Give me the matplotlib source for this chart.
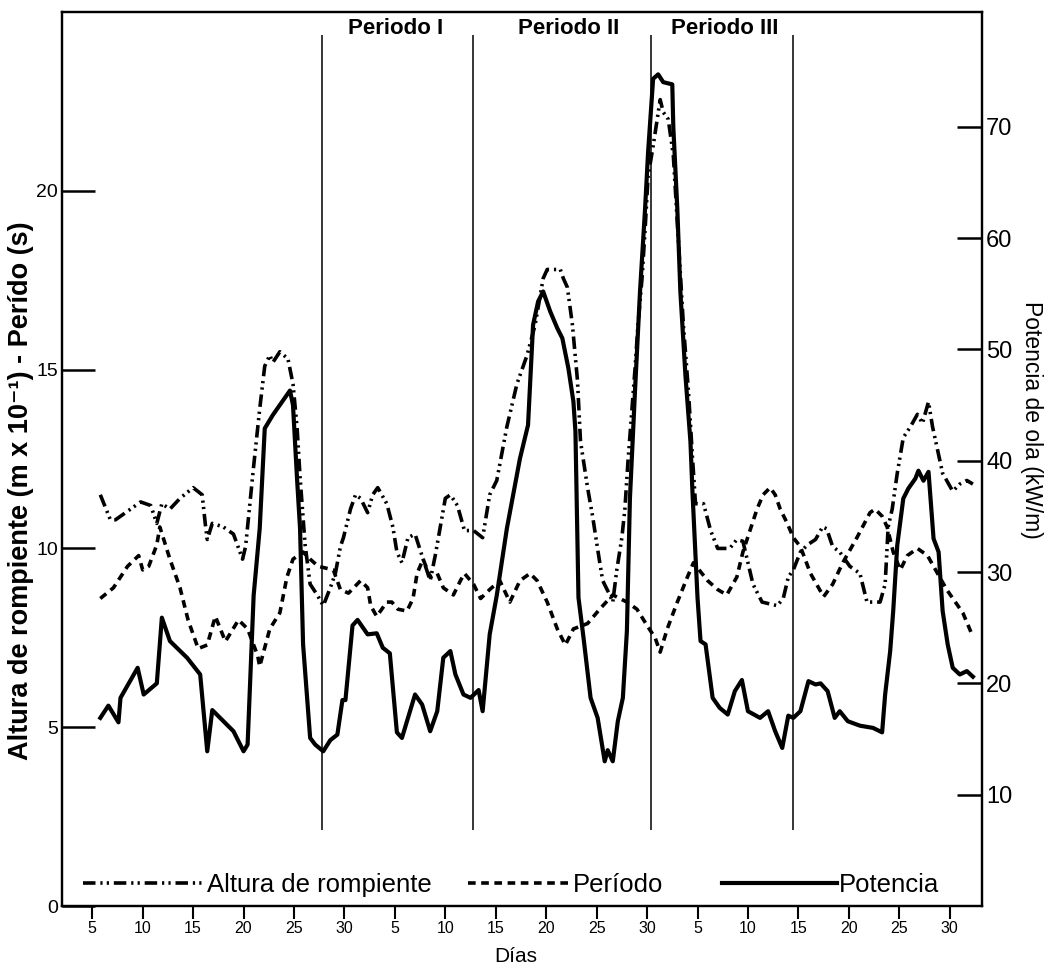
import numpy as np
import matplotlib
matplotlib.use("Agg")
import matplotlib.pyplot as plt

plt.rcParams['font.family'] = ['Liberation Sans', 'DejaVu Sans']
plt.rcParams['lines.scale_dashes'] = False

# Datos (dia continuo: mes 1 = 0-30, mes 2 = 30-60, mes 3 = 60-90)
dias_altura = [5.8, 6.8, 7.3, 9.8, 10.8, 11.4, 11.9, 12.7, 13.7, 15.0, 15.9, 16.2, 16.4, 16.9,
               18.0, 19.0, 19.9, 20.2, 21.0, 21.6, 22.1, 22.6, 22.9, 23.6, 24.4, 24.9, 25.3,
               25.6, 26.1, 26.6, 27.3, 27.9, 28.6, 29.1, 29.6, 29.9, 30.6, 31.1, 31.6, 32.3,
               32.8, 33.3, 34.2, 34.8, 35.2, 35.7, 36.3, 37.0, 37.8, 38.5, 39.0, 39.5, 40.0,
               40.5, 41.2, 41.9, 42.8, 43.7, 44.4, 45.1, 46.1, 47.1, 48.1, 48.9, 49.7, 50.1,
               51.4, 51.7, 52.1, 52.6, 53.1, 53.4, 54.1, 54.6, 55.2, 55.6, 56.3, 56.6, 57.0,
               57.5, 57.8, 58.1, 58.5, 58.8, 59.1, 59.5, 59.8, 60.1, 60.6, 61.3, 61.6, 62.1,
               62.6, 63.1, 63.6, 64.1, 64.5, 64.8, 65.6, 66.3, 67.0, 68.2, 68.9, 69.5, 70.5,
               71.4, 72.9, 73.5, 74.0, 74.5, 75.2, 75.9, 76.7, 77.4, 77.8, 78.4, 79.1, 80.1,
               81.1, 81.8, 83.1, 83.6, 83.9, 84.3, 84.8, 85.4, 86.1, 86.8, 87.3, 87.9, 88.3,
               88.8, 89.3, 90.3, 91.0, 91.7, 92.3]
altura = [11.5, 10.8, 10.8, 11.3, 11.2, 10.7, 11.25, 11.1, 11.4, 11.7, 11.5, 10.7, 10.25, 10.7,
          10.6, 10.4, 9.7, 10.05, 12.3, 13.9, 15.1, 15.4, 15.2, 15.5, 15.3, 14.6, 13.4,
          12.0, 10.1, 9.0, 8.7, 8.4, 8.9, 9.3, 10.05, 10.3, 11.1, 11.5, 11.4, 11.0,
          11.5, 11.7, 11.25, 10.6, 9.9, 9.6, 10.3, 10.4, 9.7, 9.1, 9.8, 10.6, 11.4,
          11.5, 11.2, 10.5, 10.5, 10.3, 11.5, 11.9, 13.4, 14.6, 15.4, 16.25, 17.55, 17.8,
          17.8, 17.55, 17.3, 16.25, 14.7, 13.0, 11.7, 10.9, 9.8, 9.1, 8.7, 8.5, 9.4,
          10.3, 11.1, 12.4, 13.9, 15.0, 16.25, 17.55, 18.9, 20.4, 21.25, 22.55, 22.2, 22.0,
          21.0, 18.6, 16.25, 14.4, 12.55, 11.25, 11.25, 10.5, 10.0, 10.0, 10.25, 10.2, 9.0,
          8.5, 8.4, 8.6, 9.2, 9.4, 9.9, 10.1, 10.25, 10.6, 10.55, 10.05, 9.9, 9.5,
          9.3, 8.5, 8.5, 9.0, 10.6, 11.1, 12.1, 13.1, 13.4, 13.75, 13.5, 14.1, 13.4,
          12.75, 12.1, 11.6, 11.8, 11.9, 11.8]

dias_periodo = [5.8, 7.1, 8.5, 9.6, 10.0, 10.6, 11.4, 11.7, 12.7, 13.7, 14.5, 15.5, 16.4, 17.2,
                18.2, 19.5, 20.4, 21.4, 21.6, 22.6, 23.6, 24.3, 24.9, 25.9, 26.6, 27.4, 28.9,
                29.6, 30.4, 31.6, 32.3, 32.6, 33.2, 34.2, 34.7, 35.3, 36.2, 36.8, 37.2, 37.8,
                38.5, 39.2, 39.8, 40.8, 41.5, 41.9, 42.8, 43.5, 44.4, 45.4, 46.4, 47.4, 48.4,
                49.1, 50.1, 51.1, 51.9, 52.7, 54.1, 55.3, 56.6, 58.0, 59.0, 60.1, 60.8, 61.3,
                62.0, 63.0, 64.0, 64.6, 66.0, 67.0, 67.9, 68.9, 69.5, 70.9, 71.5, 72.2, 72.7,
                73.2, 73.9, 74.5, 75.2, 76.2, 77.5, 78.4, 79.4, 80.8, 82.1, 82.6, 83.3, 83.8,
                84.4, 85.1, 85.8, 86.8, 87.8, 88.8, 89.7, 91.3, 92.2]
periodo = [8.6, 8.9, 9.5, 9.8, 9.4, 9.5, 10.1, 10.6, 9.7, 8.9, 8.0, 7.2, 7.3, 8.1,
           7.4, 8.0, 7.75, 7.0, 6.7, 7.75, 8.2, 9.2, 9.7, 9.9, 9.7, 9.5, 9.4,
           8.85, 8.75, 9.1, 8.9, 8.4, 8.1, 8.5, 8.5, 8.3, 8.25, 8.6, 9.3, 9.7,
           9.2, 9.3, 8.9, 8.7, 9.1, 9.3, 9.0, 8.6, 8.85, 9.1, 8.5, 9.1, 9.3,
           9.1, 8.5, 7.75, 7.3, 7.75, 7.9, 8.3, 8.7, 8.5, 8.3, 7.8, 7.5, 7.1,
           7.75, 8.5, 9.2, 9.6, 9.1, 8.85, 8.7, 9.2, 9.9, 11.1, 11.5, 11.7, 11.5,
           11.1, 10.7, 10.3, 10.05, 9.3, 8.65, 9.0, 9.6, 10.3, 11.0, 11.1, 10.9, 10.6,
           9.9, 9.4, 9.8, 10.0, 9.8, 9.3, 8.85, 8.2, 7.6]

dias_potencia = [5.8, 6.6, 7.6, 7.8, 9.5, 10.1, 11.4, 11.9, 12.7, 14.4, 15.7, 16.4, 16.9, 18.0,
                 19.0, 20.0, 20.4, 21.0, 21.6, 22.1, 22.9, 24.6, 24.9, 25.3, 25.6, 25.9, 26.6,
                 27.1, 27.9, 28.6, 29.3, 29.8, 30.1, 30.8, 31.3, 32.3, 33.2, 33.8, 34.5, 35.2,
                 35.7, 37.0, 37.7, 38.5, 39.2, 39.8, 40.5, 41.0, 41.8, 42.5, 43.3, 43.7, 44.4,
                 45.1, 46.1, 47.4, 48.2, 48.7, 49.2, 49.7, 50.4, 51.1, 51.6, 52.2, 52.7, 52.9,
                 53.2, 53.7, 54.4, 55.1, 55.8, 56.1, 56.6, 57.1, 57.6, 58.0, 58.3, 58.8, 59.3,
                 59.8, 60.1, 60.6, 61.1, 61.6, 62.5, 62.6, 63.0, 63.3, 63.8, 64.3, 64.5, 65.0,
                 65.3, 65.8, 66.5, 67.2, 68.0, 68.7, 69.4, 70.0, 71.2, 72.0, 72.7, 73.4, 74.0,
                 74.5, 75.2, 76.0, 76.7, 77.2, 77.9, 78.6, 79.1, 79.9, 81.1, 82.4, 83.3, 83.6,
                 84.1, 84.4, 84.8, 85.4, 85.9, 86.6, 86.9, 87.4, 87.9, 88.4, 88.9, 89.3, 89.8,
                 90.3, 91.0, 91.7, 92.3]
potencia = [16.9, 18.0, 16.5, 18.7, 21.4, 19.0, 20.0, 25.9, 23.8, 22.3, 20.8, 13.9, 17.6, 16.6,
            15.7, 13.9, 14.5, 27.9, 33.9, 42.9, 44.1, 46.3, 45.0, 38.4, 33.9, 23.5, 15.1,
            14.5, 13.9, 14.9, 15.4, 18.5, 18.5, 25.2, 25.7, 24.4, 24.5, 23.2, 22.7, 15.6,
            15.1, 19.0, 18.1, 15.7, 17.5, 22.3, 22.9, 20.8, 19.0, 18.7, 19.4, 17.5, 24.4,
            27.9, 33.9, 40.2, 43.2, 52.2, 54.3, 55.2, 53.4, 51.9, 51.0, 48.3, 45.3, 42.6,
            27.7, 24.1, 18.7, 16.9, 13.0, 14.0, 13.0, 16.6, 18.7, 24.7, 36.6, 46.2, 55.2,
            62.6, 67.7, 74.3, 74.7, 74.0, 73.8, 70.0, 62.6, 55.2, 47.7, 41.7, 37.2, 27.7,
            23.8, 23.5, 18.7, 17.8, 17.2, 19.3, 20.3, 17.5, 16.9, 17.5, 15.7, 14.2, 17.1,
            16.9, 17.5, 20.2, 19.9, 20.0, 19.3, 16.9, 17.5, 16.6, 16.2, 16.0, 15.6, 19.0,
            22.9, 26.5, 32.4, 36.6, 37.5, 38.4, 39.1, 38.2, 39.0, 33.0, 31.8, 26.5, 23.5,
            21.4, 20.8, 21.1, 20.6]

# limites de los periodos y etiquetas
limites_periodos = [27.8, 42.7, 60.4, 74.5]
centros_periodos = [35.1, 52.2, 67.7]
nombres_periodos = ['Periodo I', 'Periodo II', 'Periodo III']

dias_ticks = list(range(5, 95, 5))
etiquetas_dias = ['5', '10', '15', '20', '25', '30'] * 3

fig = plt.figure(figsize=(10.47, 9.68), dpi=100)
ax = fig.add_axes([0.0592, 0.0640, 0.8787, 0.9236])
ax2 = ax.twinx()

l1, = ax.plot(dias_altura, altura, color='black', lw=2.6,
              dashes=(9, 3.5, 1.6, 3, 1.6, 3.5))
l2, = ax.plot(dias_periodo, periodo, color='black', lw=2.6, dashes=(5.5, 4))
l3, = ax2.plot(dias_potencia, potencia, color='black', lw=3.0)

ax.vlines(limites_periodos, 2.13, 24.36, color='black', lw=1.1)
for c, n in zip(centros_periodos, nombres_periodos):
    ax.text(c, 24.55, n, ha='center', va='center', fontsize=16, fontweight='bold')

ax.set_xlim(2.0, 93.2)
ax.set_ylim(0, 25.0)
ax2.set_ylim(0, 80.3)

ax.set_xticks(dias_ticks)
ax.set_xticklabels(etiquetas_dias)
ax.set_yticks([0, 5, 10, 15, 20])
ax2.set_yticks([10, 20, 30, 40, 50, 60, 70])

ax.tick_params(axis='x', direction='out', length=9, width=1.5, labelsize=11.5, pad=2)
ax.tick_params(axis='y', direction='in', length=24, width=1.8, labelsize=14, pad=3)
ax2.tick_params(axis='y', direction='in', length=18, width=1.8, labelsize=17, pad=3)

for a in (ax, ax2):
    for s in a.spines.values():
        s.set_linewidth(1.6)

fig.text(21 / 1047, 1 - 491 / 968, 'Altura de rompiente (m x 10⁻¹) - Perído (s)',
         rotation=90, ha='center', va='center', fontsize=19.5, fontweight='bold')
fig.text(1031 / 1047, 1 - 420 / 968, 'Potencia de ola (kW/m)',
         rotation=270, ha='center', va='center', fontsize=16.5)
fig.text(516 / 1047, 1 - 957 / 968, 'Días', ha='center', va='center', fontsize=15)

# leyenda en tres partes, como en el original
leg_opts = dict(frameon=False, fontsize=18.5, loc='center left', borderpad=0,
                borderaxespad=0, handletextpad=0.08)
lg1 = ax2.legend([l1], ['Altura de rompiente'], bbox_to_anchor=(0.023, 0.024),
                 handlelength=4.75, **leg_opts)
ax2.add_artist(lg1)
lg2 = ax2.legend([l2], ['Período'], bbox_to_anchor=(0.441, 0.024),
                 handlelength=4.0, **leg_opts)
ax2.add_artist(lg2)
ax2.legend([l3], ['Potencia'], bbox_to_anchor=(0.717, 0.024),
           handlelength=4.5, **leg_opts)

fig.savefig('out.png', dpi=100)
